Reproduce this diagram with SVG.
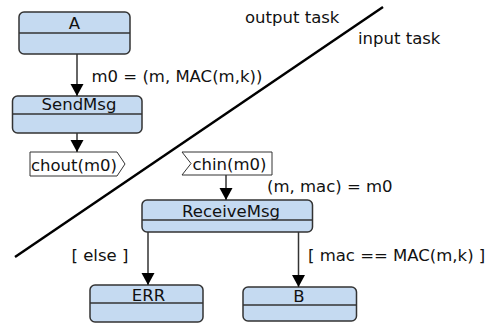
<svg xmlns="http://www.w3.org/2000/svg" width="491" height="323" viewBox="0 0 491 323">
<style>
text{font-family:"DejaVu Sans",Verdana,sans-serif;font-size:16.5px;fill:#111}
.box{fill:#c5daf1;stroke:#333;stroke-width:1.5}
.div{stroke:#333;stroke-width:1.5}
.sig{fill:#fff;stroke:#333;stroke-width:1}
.c{text-anchor:middle}
.edge{stroke:#333;stroke-width:1.5;fill:none;marker-end:url(#ah)}
</style>
<defs>
<marker id="ah" markerUnits="userSpaceOnUse" markerWidth="14" markerHeight="14" viewBox="0 0 14 14" refX="12" refY="7" orient="auto">
<path d="M0,0.5 L12,7 L0,13.5 Z" fill="#000"/>
</marker>
</defs>
<line x1="15" y1="257" x2="383" y2="7" stroke="#000" stroke-width="2.5"/>
<text x="245" y="22.5">output task</text>
<text x="358" y="44">input task</text>
<g id="A">
<rect class="box" x="19" y="12" width="111" height="42" rx="5"/>
<line class="div" x1="19" y1="33" x2="130" y2="33"/>
<text class="c" x="74.5" y="29">A</text>
</g>
<g id="SendMsg">
<rect class="box" x="12.5" y="96" width="129.5" height="37" rx="5"/>
<line class="div" x1="12.5" y1="114" x2="142" y2="114"/>
<text class="c" x="79" y="110">SendMsg</text>
</g>
<g id="chout">
<polygon class="sig" points="30,152 117,152 125,164 117,176 30,176"/>
<text x="31" y="171">chout(m0)</text>
</g>
<g id="chin">
<polygon class="sig" points="182,152 272,152 272,175 182,175 191,163.5"/>
<text x="192.5" y="170">chin(m0)</text>
</g>
<g id="ReceiveMsg">
<rect class="box" x="142" y="200" width="170.5" height="32" rx="5"/>
<line class="div" x1="142" y1="220" x2="312.5" y2="220"/>
<text class="c" x="231" y="216.5">ReceiveMsg</text>
</g>
<g id="ERR">
<rect class="box" x="90" y="285" width="113" height="37" rx="5"/>
<line class="div" x1="90" y1="303" x2="203" y2="303"/>
<text class="c" x="148.5" y="300.5">ERR</text>
</g>
<g id="B">
<rect class="box" x="243" y="287" width="113.5" height="34" rx="5"/>
<line class="div" x1="243" y1="305" x2="356.5" y2="305"/>
<text class="c" x="299" y="302">B</text>
</g>
<g id="connectors">
<line class="edge" x1="77" y1="54" x2="77" y2="96"/>
<line class="edge" x1="77" y1="133" x2="77" y2="152"/>
<line class="edge" x1="226" y1="175" x2="226" y2="200"/>
<line class="edge" x1="148" y1="232" x2="148" y2="285"/>
<line class="edge" x1="298.5" y1="232" x2="298.5" y2="287"/>
<text x="91.5" y="82">m0 = (m, MAC(m,k))</text>
<text x="267" y="192">(m, mac) = m0</text>
<text x="71.5" y="261">[ else ]</text>
<text x="308" y="261">[ mac == MAC(m,k) ]</text>
</g>
</svg>
